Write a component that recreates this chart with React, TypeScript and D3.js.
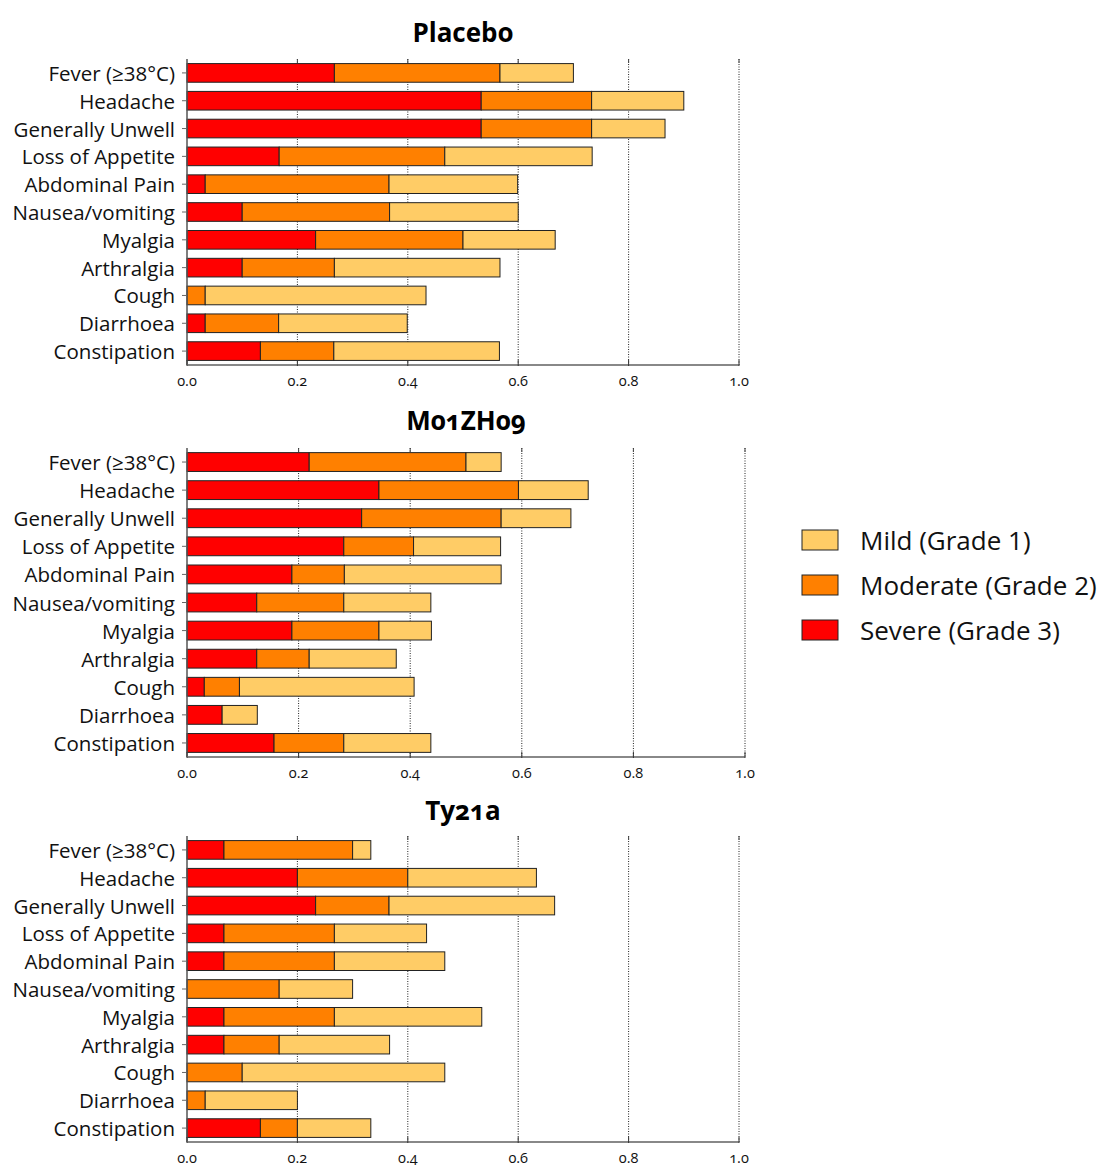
import React from "react";
import * as d3 from "d3";

const categories = [
  "Fever (≥38°C)",
  "Headache",
  "Generally Unwell",
  "Loss of Appetite",
  "Abdominal Pain",
  "Nausea/vomiting",
  "Myalgia",
  "Arthralgia",
  "Cough",
  "Diarrhoea",
  "Constipation",
];

const gradeKeys = ["severe", "moderate", "mild"];
const legendLabels = ["Mild (Grade 1)", "Moderate (Grade 2)", "Severe (Grade 3)"];
const legendKeys = ["mild", "moderate", "severe"];
const xTicks = [0, 0.2, 0.4, 0.6, 0.8, 1.0];

const placeboSevere = [0.267, 0.533, 0.533, 0.167, 0.033, 0.1, 0.233, 0.1, 0, 0.033, 0.133];
const placeboModerate = [0.3, 0.2, 0.2, 0.3, 0.333, 0.267, 0.267, 0.167, 0.033, 0.133, 0.133];
const placeboMild = [0.133, 0.167, 0.133, 0.267, 0.233, 0.233, 0.167, 0.3, 0.4, 0.233, 0.3];

const m01Severe = [0.219, 0.344, 0.313, 0.281, 0.188, 0.125, 0.188, 0.125, 0.031, 0.063, 0.156];
const m01Moderate = [0.281, 0.25, 0.25, 0.125, 0.094, 0.156, 0.156, 0.094, 0.063, 0, 0.125];
const m01Mild = [0.063, 0.125, 0.125, 0.156, 0.281, 0.156, 0.094, 0.156, 0.313, 0.063, 0.156];

const ty21aSevere = [0.067, 0.2, 0.233, 0.067, 0.067, 0, 0.067, 0.067, 0, 0, 0.133];
const ty21aModerate = [0.233, 0.2, 0.133, 0.2, 0.2, 0.167, 0.2, 0.1, 0.1, 0.033, 0.067];
const ty21aMild = [0.033, 0.233, 0.3, 0.167, 0.2, 0.133, 0.267, 0.2, 0.367, 0.167, 0.133];

const colors: Record<string, string> = {
  severe: "#FF0000",
  moderate: "#FF8000",
  mild: "#FFCC66",
};

const FONT = "'Open Sans', 'DejaVu Sans', sans-serif";

const panels = [
  { title: "Placebo", severe: placeboSevere, moderate: placeboModerate, mild: placeboMild, top: 59, bottom: 365, x0: 187, x1: 739, titleY: 32 },
  { title: "M01ZH09", severe: m01Severe, moderate: m01Moderate, mild: m01Mild, top: 448, bottom: 757, x0: 187, x1: 745, titleY: 420 },
  { title: "Ty21a", severe: ty21aSevere, moderate: ty21aModerate, mild: ty21aMild, top: 836, bottom: 1142, x0: 187, x1: 739, titleY: 810 },
];

function Panel({ p }: { p: (typeof panels)[number] }) {
  const rows = categories.map((c, i) => ({
    category: c,
    severe: p.severe[i],
    moderate: p.moderate[i],
    mild: p.mild[i],
  }));
  const stack = d3.stack<any>().keys(gradeKeys);
  const series = stack(rows);
  const x = d3.scaleLinear().domain([0, 1]).range([p.x0, p.x1]);
  const y = d3.scaleBand<string>().domain(categories).range([p.top, p.bottom]).paddingInner(0.33).paddingOuter(0.165);
  const cx = (p.x0 + p.x1) / 2;
  return (
    <g>
      <text x={cx} y={p.titleY} textAnchor="middle" dominantBaseline="central" fontSize={26} fontWeight="bold" fill="#000" style={{ fontVariantNumeric: "oldstyle-nums" }}>
        {p.title}
      </text>
      {xTicks.filter((t) => t > 0).map((t) => (
        <g key={"g" + t}>
          <line x1={x(t)} x2={x(t)} y1={p.top} y2={p.bottom} stroke="#222" strokeWidth={1} strokeDasharray="1,1.5" />
          <line x1={x(t)} x2={x(t)} y1={p.top} y2={p.top + 4} stroke="#444" strokeWidth={1} />
        </g>
      ))}
      {series.map((s) => (
        <g key={s.key} fill={colors[s.key]}>
          {s.map((d, i) =>
            d[1] - d[0] > 0 ? (
              <rect
                key={i}
                x={x(d[0])}
                y={y(categories[i])}
                width={x(d[1]) - x(d[0])}
                height={y.bandwidth()}
                stroke="#222"
                strokeWidth={1}
              />
            ) : null
          )}
        </g>
      ))}
      <line x1={p.x0} x2={p.x0} y1={p.top} y2={p.bottom} stroke="#555" strokeWidth={1.5} />
      {categories.map((c) => (
        <g key={c}>
          <line x1={p.x0 - 5} x2={p.x0} y1={y(c)! + y.bandwidth() / 2} y2={y(c)! + y.bandwidth() / 2} stroke="#666" strokeWidth={1} />
          <text x={175} y={y(c)! + y.bandwidth() / 2} textAnchor="end" dominantBaseline="central" fontSize={20.5} fill="#111">
            {c}
          </text>
        </g>
      ))}
      <line x1={p.x0} x2={p.x1} y1={p.bottom} y2={p.bottom} stroke="#888" strokeWidth={2} />
      {xTicks.map((t) => (
        <g key={"t" + t}>
          <line x1={x(t)} x2={x(t)} y1={p.bottom - 5} y2={p.bottom + 1} stroke="#333" strokeWidth={1} />
          <text x={x(t)} y={p.bottom + 15} textAnchor="middle" dominantBaseline="central" fontSize={14.5} fill="#111" style={{ fontVariantNumeric: "oldstyle-nums" }}>
            {t.toFixed(1)}
          </text>
        </g>
      ))}
    </g>
  );
}

export default function App() {
  const legendY = [540, 585, 630];
  return (
    <svg
      width={1102}
      height={1165}
      style={{ position: "absolute", left: 0, top: 0, fontFamily: FONT, background: "#fff" }}
    >
      <rect width={1102} height={1165} fill="#fff" />
      {panels.map((p) => (
        <Panel key={p.title} p={p} />
      ))}
      {legendKeys.map((k, i) => (
        <g key={k}>
          <rect x={802} y={legendY[i] - 10} width={36} height={20} fill={colors[k]} stroke="#222" strokeWidth={1} />
          <text x={860} y={legendY[i]} dominantBaseline="central" fontSize={26} fill="#111">
            {legendLabels[i]}
          </text>
        </g>
      ))}
    </svg>
  );
}
